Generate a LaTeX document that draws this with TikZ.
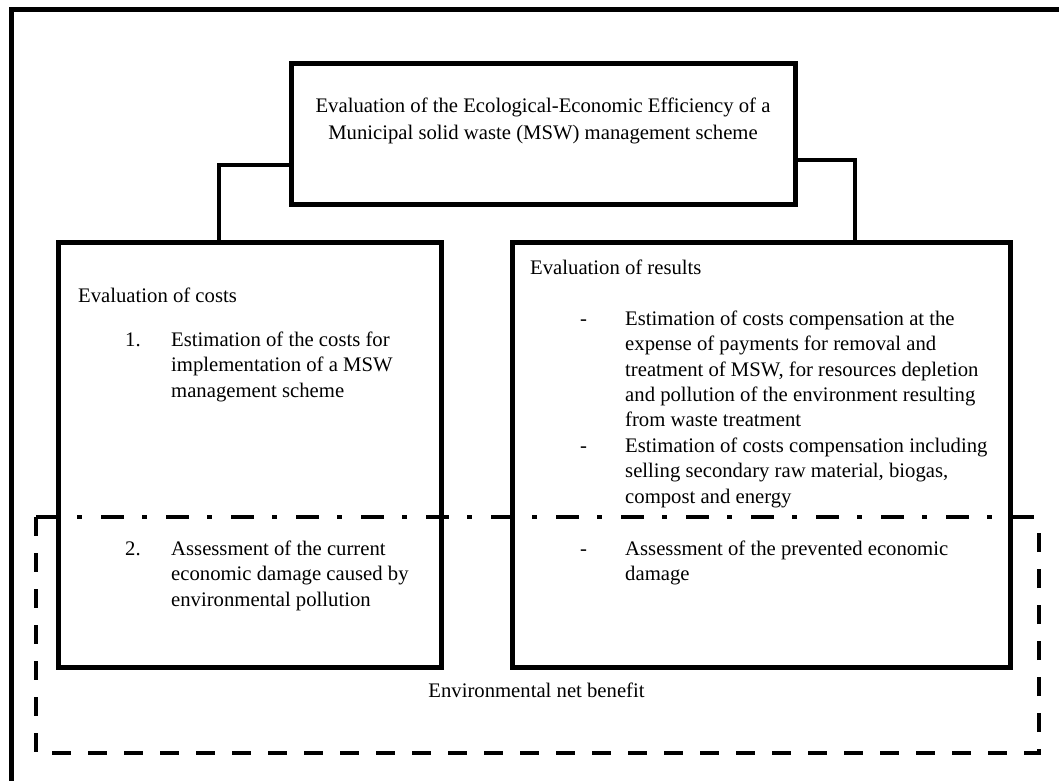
\documentclass[tikz,border=0pt]{standalone}
\usepackage{fontspec}
\setmainfont{Liberation Serif}
\begin{document}
\begin{tikzpicture}[x=1pt,y=-1pt,
  box/.style={draw, line width=5pt, rectangle, inner sep=0pt},
  conn/.style={draw, line width=3.3pt},
  frame/.style={draw, line width=5pt},
  txt/.style={inner sep=0pt, font=\fontsize{20.7}{25.3}\selectfont, align=left},
  dashside/.style={line width=4pt, dash pattern=on 19pt off 17pt},
  dashdotside/.style={line width=4pt, dash pattern=on 23pt off 18pt on 5pt off 19pt}]
\useasboundingbox (0,0) rectangle (1059,780);
\clip (0,0) rectangle (1059,780);
\fill[white] (0,0) rectangle (1059,780);
% outer frame (extends past the picture edge)
\draw[frame] (11,800) -- (11,9) -- (1075,9);
% boxes
\node[box, minimum width=504pt, minimum height=141pt] (top) at (543,133.5) {};
\node[box, minimum width=383pt, minimum height=425pt] (lbox) at (249.5,454.5) {};
\node[box, minimum width=498pt, minimum height=425pt] (rbox) at (761,454.5) {};
% connectors
\draw[conn] ([yshift=-31.5pt]top.west) -| ([xshift=-30.5pt]lbox.north);
\draw[conn] ([yshift=-26.5pt]top.east) -| ([xshift=94pt]rbox.north);
% dashed benefit region
\coordinate (dtl) at (36,517);
\coordinate (dbr) at (1039,753);
\draw[dashdotside] (dtl) -- (dtl -| dbr);
\draw[dashside] (dtl) -- (dtl |- dbr) -- (dbr) -- (dbr |- dtl);
% texts
\node[txt, anchor=north, align=center, font=\fontsize{20.7}{27}\selectfont] (ttl) at (543,97.8)
  {Evaluation of the Ecological-Economic Efficiency of a\\Municipal solid waste (MSW) management scheme};
\node[txt, anchor=base west] (hc) at (78,302) {Evaluation of costs};
\node[txt, anchor=base west] (hr) at (530,274) {Evaluation of results};
\node[txt, anchor=base west] (n1) at (125,346) {1.};
\node[txt, anchor=north west] (t1) at (171,331.8)
  {Estimation of the costs for\\implementation of a MSW\\management scheme};
\node[txt, anchor=base west] (n2) at (125,555) {2.};
\node[txt, anchor=north west] (t2) at (171,540.8)
  {Assessment of the current\\economic damage caused by\\environmental pollution};
\node[txt, anchor=base west] (d1) at (580,325) {-};
\node[txt, anchor=north west] (r1) at (625,310.8)
  {Estimation of costs compensation at the\\expense of payments for removal and\\treatment of MSW, for resources depletion\\and pollution of the environment resulting\\from waste treatment};
\node[txt, anchor=base west] (d2) at (580,452) {-};
\node[txt, anchor=north west] (r2) at (625,437.8)
  {Estimation of costs compensation including\\selling secondary raw material, biogas,\\compost and energy};
\node[txt, anchor=base west] (d3) at (580,555) {-};
\node[txt, anchor=north west] (r3) at (625,540.8)
  {Assessment of the prevented economic\\damage};
\node[txt, anchor=base] (nb) at (536.5,697) {Environmental net benefit};
\end{tikzpicture}
\end{document}
